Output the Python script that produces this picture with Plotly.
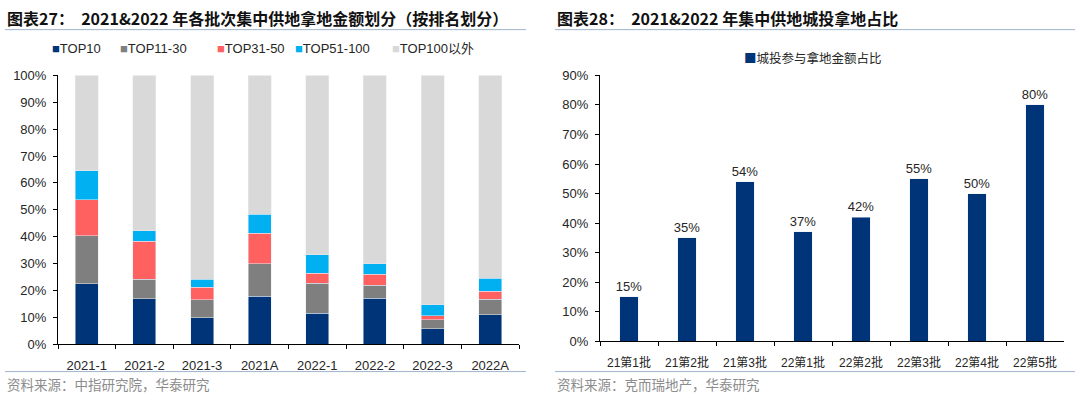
import plotly.graph_objects as go

# 图表27：各批次集中供地拿地金额划分（按排名）
batches = ["2021-1", "2021-2", "2021-3", "2021A", "2022-1", "2022-2", "2022-3", "2022A"]
top10 = [0.225, 0.169, 0.098, 0.179, 0.114, 0.171, 0.057, 0.109]
top11_30 = [0.179, 0.073, 0.068, 0.120, 0.113, 0.048, 0.034, 0.058]
top31_50 = [0.134, 0.141, 0.046, 0.114, 0.036, 0.041, 0.015, 0.029]
top51_100 = [0.108, 0.038, 0.030, 0.071, 0.070, 0.039, 0.040, 0.049]
top100_plus = [0.354, 0.579, 0.758, 0.516, 0.667, 0.701, 0.854, 0.755]
series_names = ["TOP10", "TOP11-30", "TOP31-50", "TOP51-100", "TOP100以外"]
series_colors = ["#003478", "#7f7f7f", "#ff6161", "#00b0f0", "#d9d9d9"]

# 图表28：城投拿地占比
rounds = ["21第1批", "21第2批", "21第3批", "22第1批", "22第2批", "22第3批", "22第4批", "22第5批"]
chengtou_share = [0.15, 0.35, 0.54, 0.37, 0.42, 0.55, 0.50, 0.80]
share_name = "城投参与拿地金额占比"

W, H = 1080, 408
LINE_COLOR = "#9fb4cc"
TXT = "#262626"
LAT = "Liberation Sans, Arial, Noto Sans CJK SC"
CJK = "Noto Sans CJK SC"

fig = go.Figure()

for name, vals, col in zip(series_names, [top10, top11_30, top31_50, top51_100, top100_plus], series_colors):
    fig.add_trace(go.Bar(x=batches, y=vals, name=name, marker_color=col, width=0.4,
                         xaxis="x", yaxis="y"))

fig.add_trace(go.Bar(x=rounds, y=chengtou_share, name=share_name, marker_color="#003478",
                     width=0.32, xaxis="x2", yaxis="y2",
                     text=[f"{v:.0%}" for v in chengtou_share], textposition="outside",
                     constraintext="none",
                     textfont=dict(family=LAT, size=13, color=TXT), cliponaxis=False))

def px(x):
    return x / W

def py(y):
    return 1 - y / H

axis_common = dict(showline=True, linecolor="#000000", linewidth=1, showgrid=False, zeroline=False,
                   ticks="outside", ticklen=4, tickcolor="#000000",
                   tickfont=dict(family=LAT, size=13, color=TXT))

fig.update_layout(
    width=W, height=H, margin=dict(l=0, r=0, t=0, b=0),
    paper_bgcolor="white", plot_bgcolor="white",
    barmode="stack", showlegend=False,
    xaxis=dict(domain=[px(58), px(519)], anchor="y", type="category", tickson="boundaries",
               ticklabelstandoff=9, **axis_common),
    yaxis=dict(domain=[py(350), py(71)], anchor="x", range=[0, 1], dtick=0.1, tickformat=".0%",
               ticklabelstandoff=4, **axis_common),
    xaxis2=dict(domain=[px(600), px(1064)], anchor="y2", type="category", tickson="boundaries",
                ticklabelstandoff=10,
                **{**axis_common, "tickfont": dict(family=LAT, size=12, color=TXT)}),
    yaxis2=dict(domain=[py(347), py(71)], anchor="x2", range=[0, 0.9], dtick=0.1, tickformat=".0%",
                ticklabelstandoff=4, **axis_common),
)

def note(x, y, text, size, color, family=CJK):
    fig.add_annotation(x=px(x), y=py(y), xref="paper", yref="paper", xanchor="left", yanchor="middle",
                       showarrow=False, text=text, font=dict(family=family, size=size, color=color))

# 图例（手工排布，贴近原图间距）
legend_x = [50, 118, 215, 293, 390]
for lx, name, col in zip(legend_x, series_names, series_colors):
    note(lx, 43, f"<span style='color:{col}'>■</span>{name}", 13, TXT, LAT)
note(742, 52, f"<span style='color:#003478'>■</span>{share_name}", 12.5, TXT)

# 标题
note(5, 11, "<b>图表27：  2021&2022 年各批次集中供地拿地金额划分（按排名划分）</b>", 16, "#111111")
note(555, 11, "<b>图表28：  2021&2022 年集中供地城投拿地占比</b>", 16, "#111111")

# 来源
note(5, 391, "资料来源：中指研究院，华泰研究", 13.5, "#8c8c8c")
note(555, 391, "资料来源：克而瑞地产，华泰研究", 13.5, "#8c8c8c")

# 分隔线
for x0, x1 in [(5, 526), (555, 1075)]:
    for yy in [23.5, 378.5]:
        fig.add_shape(type="line", xref="paper", yref="paper", x0=px(x0), x1=px(x1), y0=py(yy), y1=py(yy),
                      line=dict(color=LINE_COLOR, width=1))

# 去掉页面默认边距，让图正好贴满窗口
fig.write_html("out.html", config={"displayModeBar": False},
               post_script="document.body.style.margin='0';document.body.style.overflow='hidden';")
